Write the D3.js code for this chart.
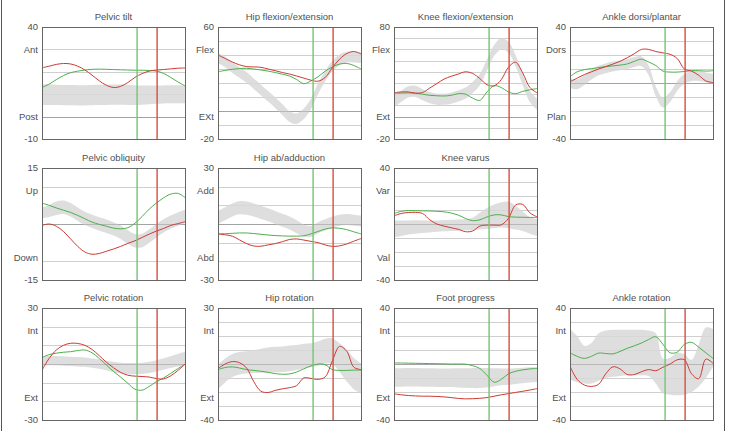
<!DOCTYPE html>
<html>
<head>
<meta charset="utf-8">
<script src="https://cdn.jsdelivr.net/npm/d3@7"></script>
<style>
  html, body { margin: 0; padding: 0; background: #fff; }
  svg text { font-family: "Liberation Sans", Arial, sans-serif; fill: #505050; }
</style>
</head>
<body>
<div id="chart"></div>
<script>
// gait cycle (%) sample points
const cycle = [0, 5, 10, 15, 20, 25, 30, 35, 40, 45, 50, 55, 60, 65, 70, 75, 80, 85, 90, 95, 100];

// toe-off markers (% of cycle)
const greenToeOff = 66.5;
const redToeOff = 80.5;

const titles = ["Pelvic tilt", "Hip flexion/extension", "Knee flexion/extension", "Ankle dorsi/plantar",
    "Pelvic obliquity", "Hip ab/adduction", "Knee varus", null,
    "Pelvic rotation", "Hip rotation", "Foot progress", "Ankle rotation"];
const yMax = [40, 60, 80, 40, 15, 30, 40, null, 30, 30, 40, 40];
const yMin = [-10, -20, -20, -40, -15, -30, -40, null, -30, -40, -40, -40];
const upperLabels = ["Ant", "Flex", "Flex", "Dors", "Up", "Add", "Var", null, "Int", "Int", "Int", "Int"];
const lowerLabels = ["Post", "EXt", "Ext", "Plan", "Down", "Abd", "Val", null, "Ext", "Ext", "Ext", "Ext"];
const gridValues = [
    [30, 20, 10, 0],
    [50, 40, 30, 20, 10, 0, -10],
    [70, 60, 50, 40, 30, 20, 10, 0, -10],
    [30, 20, 10, 0, -10, -20, -30],
    [10, 0, -10],
    [20, 10, 0, -10, -20],
    [30, 20, 10, 0, -10, -20, -30],
    null,
    [20, 10, 0, -10, -20],
    [21.25, 12.5, 3.75, -5, -13.75, -22.5, -31.25],
    [30, 20, 10, 0, -10, -20, -30],
    [30, 20, 10, 0, -10, -20, -30]
];
const darkLine = [0, 0, 0, 0, 0, 0, 0, null, 0, -5, 0, 0];

// normal band (mean, sd) and the two sides
const pelvicTiltMean = [9.8, 9.8, 9.7, 9.6, 9.6, 9.5, 9.5, 9.6, 9.7, 9.7, 9.8, 9.8, 9.7, 9.6, 9.6, 9.7, 9.8, 9.9, 10, 10, 10];
const pelvicTiltSd = [4.6, 4.6, 4.5, 4.5, 4.5, 4.5, 4.5, 4.5, 4.5, 4.5, 4.5, 4.5, 4.5, 4.4, 4.3, 4.2, 4.1, 4, 4, 4, 4];
const pelvicTiltGreen = [13, 14.5, 16.5, 18.3, 19.6, 20.3, 20.8, 21.1, 21.2, 21.1, 21, 20.9, 20.8, 20.7, 20.7, 20.6, 20.3, 19.3, 17.5, 15.5, 13.7];
const pelvicTiltRed = [21.8, 22.5, 23.3, 23.7, 23.5, 22.5, 20.8, 18.5, 16, 14, 13, 13.5, 15.2, 17.5, 19.2, 20.3, 20.8, 21, 21.3, 21.6, 21.7];

const hipFlexMean = [38, 35, 31, 27.5, 24, 19.5, 15, 10.5, 6, 1, -4, -5.5, -2, 5, 16, 25, 32, 36.5, 38.5, 38.5, 38];
const hipFlexSd = [3.8, 3.8, 3.8, 3.8, 3.8, 3.8, 3.8, 3.8, 3.8, 3.8, 3.8, 3.8, 3.8, 3.8, 3.8, 3.8, 3.8, 3.8, 3.8, 3.8, 3.8];
const hipFlexGreen = [28, 29, 29.8, 30.3, 30.5, 30, 29.3, 28.5, 27.5, 26.3, 25, 22.5, 19.5, 21.5, 24.5, 28.5, 31.5, 33.5, 34, 32.5, 30];
const hipFlexRed = [40, 37.5, 35, 33, 31.7, 31.5, 31.2, 30, 28.8, 27.5, 26.4, 25, 23.5, 22, 21.3, 24, 31, 37, 41, 42.5, 40.8];

const kneeFlexMean = [13, 18, 22, 22.5, 19.5, 17, 15.5, 15.5, 16.5, 18.5, 21, 26, 33, 46, 59, 65, 62, 50, 33, 18, 11];
const kneeFlexSd = [5, 5, 5, 5, 5, 5, 5, 5, 5, 5, 5, 5, 5, 5, 5, 5, 5, 5, 5, 5, 5];
const kneeFlexGreen = [20.7, 21, 21.2, 20.8, 20, 19, 18.6, 18.4, 19, 20.5, 20, 16.5, 14.5, 22, 27.5, 26, 22, 20.5, 22.5, 24, 25];
const kneeFlexRed = [21.3, 22, 22, 21, 21.5, 25.5, 29.5, 33.5, 36, 38, 40, 38.5, 34, 28.5, 27.5, 33, 44, 48.5, 39, 26, 21.3];

const ankleMean = [0, -1, 2, 6, 9, 10.5, 11.8, 12.6, 13.5, 15, 15.5, 9, -6, -14, -10, -2, 3, 5, 5, 4, 3];
const ankleSd = [3.5, 3.5, 3.5, 3.5, 3.5, 3.5, 3.5, 3.5, 3.5, 3.5, 3.5, 3.5, 3.5, 3.5, 3.5, 3.5, 3.5, 3.5, 3.5, 3.5, 3.5];
const ankleGreen = [4.5, 8, 9.5, 10.3, 11, 11.7, 12.2, 12.8, 13.6, 15.5, 17, 15, 12.5, 8.5, 7.8, 7.8, 8.2, 8.8, 8.8, 8.5, 8.8];
const ankleRed = [0.8, 3.5, 6, 8, 10, 11.7, 13.5, 15.5, 18, 21, 24, 24, 22.5, 21.5, 20.5, 17.5, 10, 8.5, 5.5, 1.5, 0.3];

const pelvicObliqMean = [3, 3.5, 4.2, 4.5, 3.8, 2.6, 1.5, 0.7, 0, -0.6, -1.3, -2.2, -3.5, -4.5, -4.4, -3.2, -1.8, -0.5, 0.5, 1.3, 2];
const pelvicObliqSd = [1.4, 1.6, 1.8, 1.8, 1.8, 1.8, 1.8, 1.8, 1.8, 1.8, 1.8, 1.8, 1.8, 1.8, 1.8, 1.8, 1.8, 1.8, 1.8, 1.8, 1.8];
const pelvicObliqGreen = [5.6, 5, 4.3, 3.7, 3.1, 2.3, 1.4, 0.5, -0.1, -0.6, -1.1, -1.3, -1, 0.2, 2, 4, 5.6, 7, 8, 8.2, 7.1];
const pelvicObliqRed = [-0.4, 0, -0.6, -2, -4, -6, -7.5, -8.1, -7.9, -7.3, -6.7, -6, -5.2, -4.5, -3.6, -2.7, -1.9, -1.2, -0.4, 0.1, 0.6];

const hipAbdMean = [3.5, 5.5, 7.5, 8.7, 8.5, 7.5, 6.2, 5, 3.5, 2, 0.5, -1.5, -3.5, -4, -2, -0.5, 1, 2, 2.4, 2, 1.5];
const hipAbdSd = [3.5, 3.5, 3.5, 3.5, 3.5, 3.5, 3.5, 3.5, 3.5, 3.5, 3.5, 3.5, 3.2, 3, 3, 3, 3, 3, 3, 3, 3];
const hipAbdGreen = [-5.3, -5.2, -5, -4.8, -4.8, -5.1, -5.5, -5.9, -6.2, -6.4, -6.5, -6.5, -6.3, -5.3, -4, -2.7, -2.1, -2.3, -3, -4.2, -5.3];
const hipAbdRed = [-5.3, -5.8, -6.5, -8.5, -10.5, -11.8, -11.9, -11.2, -10.5, -9.5, -8.3, -8, -8.6, -9.3, -10, -11.2, -12, -11.7, -10.7, -9.2, -7.8];

const kneeVarusMean = [-3.5, -3, -2.5, -2.2, -2, -1.8, -1.5, -1.2, -1, -0.8, -0.5, 0, 2, 4, 5.5, 6.5, 6.5, 4.5, 2, -1, -2.5];
const kneeVarusSd = [6, 5.5, 5, 4.8, 4.5, 4.2, 4, 4, 4, 4, 4, 4.5, 6, 7.5, 8.5, 9, 9.5, 8.5, 7, 6, 6];
const kneeVarusGreen = [7.5, 9, 9.6, 9.5, 9.4, 9.3, 9.1, 8.7, 7.8, 6.3, 4, 2.4, 3, 5, 6.5, 6.5, 5.3, 4.9, 4.8, 4.7, 4.7];
const kneeVarusRed = [5.8, 7.5, 8.2, 8.3, 7.5, 3, 0, -1.5, -2.7, -3.8, -5.5, -5, -1.5, -0.8, -0.8, -0.6, 4, 13.5, 14, 8, 5.1];

const pelvicRotMean = [1.5, 1.8, 1.8, 1.6, 1.4, 1.2, 1, 0.5, 0, -0.8, -1.6, -2.2, -2.5, -2.5, -2.3, -1.8, -1, 0, 1, 2, 3];
const pelvicRotSd = [2.5, 2.5, 2.5, 2.5, 2.5, 2.5, 2.5, 2.5, 2.5, 2.6, 2.8, 2.9, 3, 3, 3, 3, 3, 3.1, 3.2, 3.4, 3.5];
const pelvicRotGreen = [3.5, 5, 5.8, 6.3, 6.6, 7.2, 7.5, 6, 3, -0.5, -4, -7, -10.3, -13.5, -14, -12, -9.5, -7.5, -5, -2.5, -0.1];
const pelvicRotRed = [-3.3, 3, 7.5, 10, 11.1, 11, 10, 7.8, 4.5, 1, -2, -4.5, -6, -6.5, -6.7, -7, -7.8, -8, -6.3, -3.5, -0.1];

const hipRotMean = [-13, -9, -6, -4.5, -4, -3.5, -3, -2.5, -2.2, -2, -1.5, -1, 0, 0.5, 1.5, 3, 3, -1, -6, -11, -14];
const hipRotSd = [7.8, 7.5, 7.2, 7, 7, 7.2, 7.5, 7.8, 8, 8, 8, 7.8, 7.6, 7.5, 7.6, 7.8, 8, 9, 10, 9.8, 9.5];
const hipRotGreen = [-8.5, -7.2, -6.8, -7.5, -8.5, -9, -9.5, -10.2, -11, -11.4, -11.2, -10, -8, -6.2, -5, -5.5, -8.5, -9, -9, -8.8, -8.9];
const hipRotRed = [-7.8, -5, -3.5, -4.2, -7.5, -16, -22, -22.8, -21.5, -20.5, -19.8, -18.5, -13.7, -14, -14.6, -13, -3, 6, 3, -7, -8.5];

const footProgMean = [-9.7, -9.6, -9.5, -9.5, -9.6, -9.7, -9.8, -9.8, -9.8, -9.9, -10, -10, -10, -9.8, -9.5, -9.2, -9, -8.6, -8.2, -7.8, -7.5];
const footProgSd = [6.6, 6.6, 6.6, 6.6, 6.6, 6.6, 6.6, 6.6, 6.6, 6.8, 7, 7.2, 7.2, 7, 6.4, 6, 5.8, 5.6, 5.5, 5.4, 5.4];
const footProgGreen = [0.8, 0.7, 0.6, 0.5, 0.4, 0.3, 0.2, 0.1, 0, 0, -0.1, -1.2, -3.2, -8, -13, -11, -7, -5.2, -4.2, -3.5, -3.2];
const footProgRed = [-21.3, -22, -22.5, -22.8, -23, -23, -23.2, -23.5, -24, -24.6, -24.9, -24.8, -24.5, -24, -23, -22, -21.2, -20.3, -19.5, -18.6, -17.6];

const ankleRotMean = [7, 3.5, -0.5, 0.5, 5, 7, 7.7, 8, 8.2, 8.2, 8.2, 7.7, 4, -8.5, -8.7, -7.2, -7.5, -8.5, -1, 8, 11.5];
const ankleRotSd = [18, 16.5, 13.5, 14.5, 17, 17, 16.8, 16.5, 16.3, 16.3, 16.3, 16.3, 18, 12.5, 13.2, 15.2, 14.5, 11.5, 15, 18, 13.5];
const ankleRotGreen = [8, 5.5, 4, 5.5, 7.8, 7.5, 7.2, 9, 11.2, 13, 15, 17.5, 19.5, 14, 8, 8.5, 14, 15.5, 12, 8, 4];
const ankleRotRed = [-1.6, -11, -15, -16, -14.5, -7, -2, -3.5, -7.5, -7.5, -5.5, -4, -4.8, -2.3, 0, 3, 3, -7, -10.5, 3.5, 0.5];

const bandMeans = [pelvicTiltMean, hipFlexMean, kneeFlexMean, ankleMean, pelvicObliqMean, hipAbdMean, kneeVarusMean, null,
    pelvicRotMean, hipRotMean, footProgMean, ankleRotMean];
const bandSds = [pelvicTiltSd, hipFlexSd, kneeFlexSd, ankleSd, pelvicObliqSd, hipAbdSd, kneeVarusSd, null,
    pelvicRotSd, hipRotSd, footProgSd, ankleRotSd];
const greenSeries = [pelvicTiltGreen, hipFlexGreen, kneeFlexGreen, ankleGreen, pelvicObliqGreen, hipAbdGreen, kneeVarusGreen, null,
    pelvicRotGreen, hipRotGreen, footProgGreen, ankleRotGreen];
const redSeries = [pelvicTiltRed, hipFlexRed, kneeFlexRed, ankleRed, pelvicObliqRed, hipAbdRed, kneeVarusRed, null,
    pelvicRotRed, hipRotRed, footProgRed, ankleRotRed];

const width = 729, height = 431;
const panelW = 143, panelH = 112;
const colX = 42, colStep = 176;
const rowY = 27, rowStep = 140.5;

const svg = d3.select("#chart").append("svg")
    .attr("width", width)
    .attr("height", height);

// outer frame sides
svg.append("line").attr("x1", 1.5).attr("x2", 1.5).attr("y1", 0).attr("y2", height)
    .attr("stroke", "#555").attr("stroke-width", 1);
svg.append("line").attr("x1", 724.5).attr("x2", 724.5).attr("y1", 0).attr("y2", height)
    .attr("stroke", "#555").attr("stroke-width", 1);

titles.forEach((title, i) => {
    if (!title) return;
    const col = i % 4, row = Math.floor(i / 4);
    const left = Math.round(colX + col * colStep);
    const top = Math.round(rowY + row * rowStep);

    const x = d3.scaleLinear().domain([0, 100]).range([0, panelW]);
    const y = d3.scaleLinear().domain([yMin[i], yMax[i]]).range([panelH, 0]);

    const g = svg.append("g").attr("transform", `translate(${left},${top})`);

    g.append("clipPath").attr("id", `clip${i}`)
        .append("rect").attr("width", panelW).attr("height", panelH);

    g.append("text")
        .attr("x", panelW / 2).attr("y", -7)
        .attr("text-anchor", "middle")
        .attr("font-size", "9.5px")
        .text(title);

    // grid
    g.append("g").selectAll("line")
        .data(gridValues[i])
        .enter().append("line")
        .attr("x1", 0).attr("x2", panelW)
        .attr("y1", d => Math.round(y(d)) + 0.5)
        .attr("y2", d => Math.round(y(d)) + 0.5)
        .attr("stroke", d => d === darkLine[i] ? "#9a9a9a" : "#cfcfcf")
        .attr("stroke-width", d => d === darkLine[i] ? 1.2 : 1);

    const plot = g.append("g").attr("clip-path", `url(#clip${i})`);

    const mean = bandMeans[i], sd = bandSds[i];
    const area = d3.area()
        .x((d, k) => x(cycle[k]))
        .y0((d, k) => y(mean[k] - sd[k]))
        .y1((d, k) => y(mean[k] + sd[k]))
        .curve(d3.curveCatmullRom);
    plot.append("path").datum(mean)
        .attr("d", area)
        .attr("fill", "#d8d8d8")
        .attr("opacity", 0.85);

    // re-draw the dark reference line over the band
    plot.append("line")
        .attr("x1", 0).attr("x2", panelW)
        .attr("y1", Math.round(y(darkLine[i])) + 0.5)
        .attr("y2", Math.round(y(darkLine[i])) + 0.5)
        .attr("stroke", "#aaa").attr("stroke-width", 1.2).attr("opacity", 0.6);

    const line = d3.line()
        .x((d, k) => x(cycle[k]))
        .y(d => y(d))
        .curve(d3.curveCatmullRom);

    plot.append("path").datum(greenSeries[i])
        .attr("d", line)
        .attr("fill", "none")
        .attr("stroke", "#4cb04c")
        .attr("stroke-width", 1);

    plot.append("path").datum(redSeries[i])
        .attr("d", line)
        .attr("fill", "none")
        .attr("stroke", "#cc3b33")
        .attr("stroke-width", 1);

    // toe-off markers
    g.append("line")
        .attr("x1", x(greenToeOff)).attr("x2", x(greenToeOff))
        .attr("y1", 0).attr("y2", panelH)
        .attr("stroke", "#72c672").attr("stroke-width", 1.4);
    g.append("line")
        .attr("x1", x(redToeOff)).attr("x2", x(redToeOff))
        .attr("y1", 0).attr("y2", panelH)
        .attr("stroke", "#dd4a40").attr("stroke-width", 1.4);

    g.append("rect")
        .attr("x", 0.5).attr("y", 0.5)
        .attr("width", panelW).attr("height", panelH)
        .attr("fill", "none")
        .attr("stroke", "#666")
        .attr("stroke-width", 1);

    // y labels: range ends and direction words
    const labels = [
        { t: yMax[i], f: 0 },
        { t: upperLabels[i], f: 0.205 },
        { t: lowerLabels[i], f: 0.805 },
        { t: yMin[i], f: 1 }
    ];
    g.append("g").selectAll("text")
        .data(labels)
        .enter().append("text")
        .attr("x", -4)
        .attr("y", d => d.f * panelH)
        .attr("dy", "0.35em")
        .attr("text-anchor", "end")
        .attr("font-size", "9.5px")
        .text(d => d.t);
});
</script>
</body>
</html>
